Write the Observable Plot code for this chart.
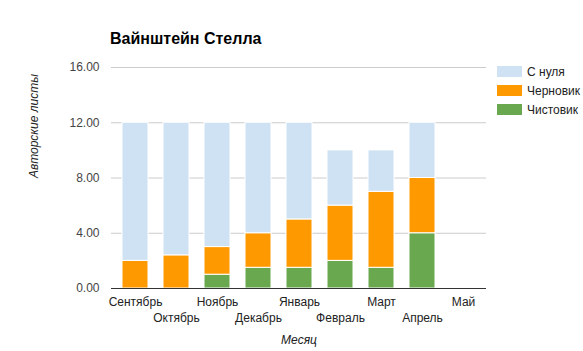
<!DOCTYPE html>
<html><head><meta charset="utf-8">
<script src="https://cdn.jsdelivr.net/npm/d3@7"></script>
<script src="https://cdn.jsdelivr.net/npm/@observablehq/plot@0.6"></script>
<style>
body{margin:0;background:#fff;font-family:Arial,"Liberation Sans",sans-serif;}
#wrap{position:relative;width:583px;height:351px;}
#title{position:absolute;left:110px;top:30px;font-size:16px;font-weight:bold;color:#000;}
.leg{position:absolute;left:497px;font-size:12px;color:#222;}
.sw{position:absolute;left:0;width:25px;height:11px;}
.lt{position:absolute;left:30px;top:-1px;white-space:nowrap;}
</style></head><body>
<div id="wrap"></div>
<script>
const months = ["Сентябрь","Октябрь","Ноябрь","Декабрь","Январь","Февраль","Март","Апрель","Май"];
const seriesNames = ["Чистовик","Черновик","С нуля"];
const seriesColors = ["#6aa84f","#ff9900","#cfe2f3"];
const chistovik = [0,0,1,1.5,1.5,2,1.5,4,0];
const chernovik = [2,2.4,2,2.5,3.5,4,5.5,4,0];
const sNulya = [10,9.6,9,8,7,4,3,4,0];
const yTicks = [0,4,8,12,16];
const legendOrder = ["С нуля","Черновик","Чистовик"];

const seriesVals = [chistovik, chernovik, sNulya];
const rows = [];
months.forEach((m,i)=>seriesNames.forEach((s,j)=>{ if(seriesVals[j][i]>0) rows.push({month:m, series:s, value:seriesVals[j][i]}); }));

const chart = Plot.plot({
  width:583, height:351,
  marginLeft:111, marginRight:97, marginTop:67, marginBottom:63,
  style:{fontFamily:'Arial,"Liberation Sans",sans-serif', fontSize:"12px", color:"#333", background:"white"},
  x:{domain:months, paddingInner:0.375, paddingOuter:0.1875, axis:null},
  y:{domain:[0,16], axis:null},
  color:{domain:seriesNames, range:seriesColors},
  marks:[
    Plot.ruleY(yTicks,{stroke:"#cccccc", strokeWidth:1}),
    Plot.barY(rows,{x:"month", y:"value", fill:"series", order:seriesNames, stroke:"white", strokeWidth:1}),
    Plot.ruleY([0],{stroke:"#333", strokeWidth:1}),
    Plot.axisY(yTicks,{tickSize:0, tickPadding:12, tickFormat:d=>d.toFixed(2), label:null, fill:"#444", fontSize:12}),
    Plot.text(months.filter((d,i)=>i%2===0),{x:d=>d, frameAnchor:"bottom", dy:14, lineAnchor:"middle", fill:"#222", fontSize:12}),
    Plot.text(months.filter((d,i)=>i%2===1),{x:d=>d, frameAnchor:"bottom", dy:30, lineAnchor:"middle", fill:"#222", fontSize:12}),
    Plot.text(["Месяц"],{frameAnchor:"bottom", dy:52, lineAnchor:"middle", fontStyle:"italic", fill:"#222", fontSize:12}),
    Plot.text(["Авторские листы"],{frameAnchor:"left", dx:-77, rotate:-90, fontStyle:"italic", fill:"#222", fontSize:12})
  ]
});
const wrap = document.getElementById("wrap");
wrap.appendChild(chart);
const t = document.createElement("div"); t.id="title"; t.textContent="Вайнштейн Стелла"; wrap.appendChild(t);
legendOrder.forEach((name,k)=>{
  const d=document.createElement("div"); d.className="leg"; d.style.top=(66+k*19)+"px";
  const sw=document.createElement("div"); sw.className="sw"; sw.style.background=seriesColors[seriesNames.indexOf(name)];
  const lt=document.createElement("div"); lt.className="lt"; lt.textContent=name;
  d.appendChild(sw); d.appendChild(lt); wrap.appendChild(d);
});
</script></body></html>
